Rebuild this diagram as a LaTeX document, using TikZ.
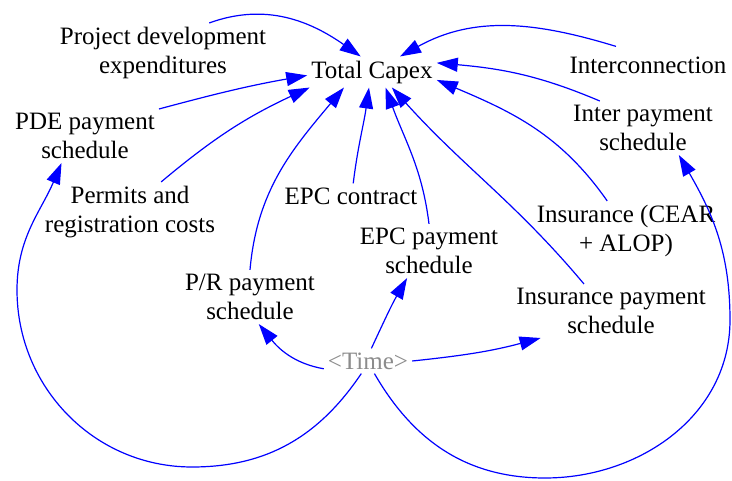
\documentclass[tikz,border=0pt]{standalone}
\usepackage{fontspec}
\setmainfont{Liberation Serif}
\usetikzlibrary{arrows.meta}

\begin{document}
\begin{tikzpicture}[x=1pt,y=1pt,
  var/.style={align=center,inner sep=4pt,font=\fontsize{25}{29}\selectfont},
  link/.style={-{Triangle[length=21pt,width=14pt]},line width=1.2pt,blue}]
% Canvas
\useasboundingbox (0,0) rectangle (732,480);
% Variables
\node[var] (capex) at (372,408) {Total Capex};
\node[var] (pde) at (163,427) {Project development\\expenditures};
\node[var] (pdepay) at (85,344) {PDE payment\\schedule};
\node[var] (permits) at (130,268) {Permits and\\registration costs};
\node[var] (epc) at (351,284) {EPC contract};
\node[var] (epcpay) at (429,229) {EPC payment\\schedule};
\node[var] (prpay) at (250,183) {P/R payment\\schedule};
\node[var,text=black!45] (time) at (368,119) {<Time>};
\node[var] (inter) at (648,415) {Interconnection};
\node[var] (interpay) at (643,352) {Inter payment\\schedule};
\node[var] (ins) at (626,249) {Insurance (CEAR\\+ ALOP)};
\node[var] (inspay) at (611,169) {Insurance payment\\schedule};
% Bend points of the long loops
\coordinate (botL) at (192,13);
\coordinate (sideL) at (17,190);
\coordinate (botR) at (545,2);
\coordinate (sideR) at (730,160);
% Links into Total Capex
\draw[link] (pde.33) to[out=20,in=145] (capex.126);
\draw[link] (pdepay.north east) to[out=15,in=190] (capex.183);
\draw[link] (permits.44) to[out=40,in=205] (capex.194);
\draw[link] (prpay.north) to[out=85,in=230] (capex.209);
\draw[link] (epc.80) to[out=83,in=262] (capex.259);
\draw[link] (epcpay.north) to[out=97,in=290] (capex.311);
\draw[link] (inspay.135) to[out=130,in=-48] (capex.322);
\draw[link] (ins.122) to[out=125,in=-23] (capex.353);
\draw[link] (interpay.148) to[out=157,in=-5] (capex.8);
\draw[link] ([xshift=-32pt,yshift=6pt]inter.north) to[out=163,in=29] (capex.29);
% Links from Time
\draw[link] (time.190) to[out=170,in=309] (prpay.288);
\draw[link] (time.75) to[out=65,in=240] (epcpay.231);
\draw[link] (time.east) to[out=6,in=195] (inspay.201);
\draw[link] (time.242) to[out=236,in=0] (botL) to[out=180,in=270] (sideL) to[out=90,in=247] (pdepay.229);
\draw[link] (time.297) to[out=300,in=180] (botR) to[out=0,in=270] (sideR) to[out=90,in=300] (interpay.323);
\end{tikzpicture}
\end{document}
